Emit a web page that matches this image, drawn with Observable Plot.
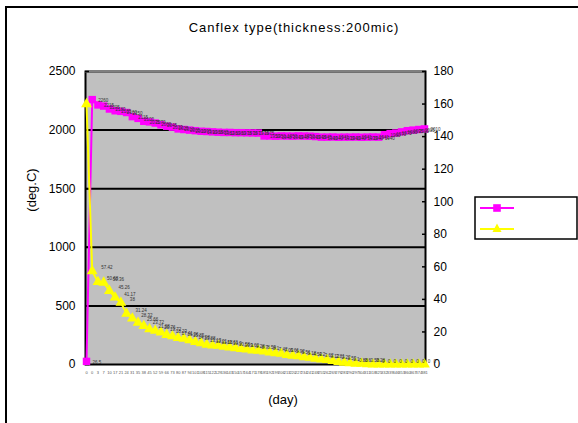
<!DOCTYPE html>
<html><head><meta charset="utf-8">
<script src="https://cdn.jsdelivr.net/npm/d3@7"></script>
<script src="https://cdn.jsdelivr.net/npm/@observablehq/plot@0.6"></script>
<style>
html,body{margin:0;padding:0;background:#fff;overflow:hidden;}
#wrap{position:relative;width:578px;height:423px;font-family:"Liberation Sans",Arial,sans-serif;overflow:hidden;}
#border{position:absolute;left:5px;top:6px;width:620px;height:460px;border:2px solid #000;box-sizing:border-box;z-index:5;pointer-events:none;}
#chart{position:absolute;left:0;top:0;}
.t{position:absolute;white-space:nowrap;color:#000;line-height:1;}
#title{left:294px;top:21px;font-size:13px;transform:translateX(-50%);letter-spacing:1px;}
#ylab{left:31px;top:190px;font-size:13px;transform:translate(-50%,-50%) rotate(-90deg);}
#xlab{left:283px;top:399px;font-size:13px;transform:translate(-50%,-50%);}
#legend{position:absolute;left:474px;top:196px;}
</style></head><body>
<div id="wrap">
  <div id="chart"></div>
  <div class="t" id="title">Canflex type(thickness:200mic)</div>
  <div class="t" id="ylab">(deg.C)</div>
  <div class="t" id="xlab">(day)</div>
  <svg id="legend" width="104" height="44">
    <rect x="1" y="1" width="102" height="42" fill="#fff" stroke="#000" stroke-width="1.5"></rect>
    <line x1="6" x2="40" y1="12" y2="12" stroke="#ff00ff" stroke-width="2"></line>
    <rect x="19.2" y="8.2" width="7.6" height="7.6" fill="#ff00ff"></rect>
    <line x1="6" x2="40" y1="33" y2="33" stroke="#ffff00" stroke-width="2"></line>
    <path d="M23,27.5 L27.5,36 L18.5,36 Z" fill="#ffff00"></path>
  </svg>
  <div id="border"></div>
</div>
<script>
const days = [0,0,3,7,10,17,21,24,31,35,
  38,45,52,59,66,73,80,87,94,101,
  108,115,122,129,136,143,150,157,164,171,
  178,185,192,199,206,213,220,227,234,241,
  248,255,262,269,276,283,290,297,304,311,
  318,325,332,339,346,353,360,367,374,381];
const magenta = [26.5,2260,2215,2205,2180,2165,2160,2150,2115,2100,
  2075,2070,2060,2045,2033,2025,2010,2005,2000,1995,
  1990,1988,1985,1982,1980,1980,1978,1978,1977,1976,
  1975,1950,1950,1948,1950,1949,1948,1950,1949,1948,
  1945,1940,1940,1941,1939,1940,1940,1941,1939,1940,
  1941,1940,1960,1970,1975,1985,1995,2000,2005,2010];
const yellow = [160,57.42,50.68,50.36,45.26,41.17,38,31.24,28.32,25.66,
  23.72,21.68,20.76,19.72,18.23,17.41,16.36,15.85,14.98,13.88,
  13.13,12.21,11.68,11.61,10.9,10.58,10.1,9.62,9.28,8.7,
  8.59,8.1,7.42,7.03,6.61,5.92,5.51,5.18,4.52,4.2,
  3.62,3.12,2.81,2.22,1.53,1.1,0.88,0.6,0.58,0.28,
  0,0,0,0,0,0,0,0,0,0];
const leftTicks = [0,500,1000,1500,2000,2500];
const rightTicks = [0,20,40,60,80,100,120,140,160,180];
const gridLines = [500,1000,1500,2000];

const K = 2500/180;
const idx = days.map((d,i)=>i);
const data = days.map((d,i)=>({i, m: magenta[i], y: yellow[i]}));

const plot = Plot.plot({
  width: 578, height: 423,
  marginLeft: 85, marginRight: 153, marginTop: 71, marginBottom: 59,
  style: {fontFamily: '"Liberation Sans", Arial, sans-serif', background: "transparent", overflow: "visible", color: "#000"},
  x: {type: "point", domain: idx, padding: 0, insetLeft: 1, insetRight: 1, axis: null},
  y: {domain: [0, 2500], axis: null},
  marks: [
    Plot.frame({fill: "#c0c0c0"}),
    Plot.ruleY(gridLines, {stroke: "#000", strokeWidth: 2}),
    Plot.frame({stroke: "#000", strokeWidth: 2}),
    Plot.ruleY([2500], {stroke: "#808080", strokeWidth: 2}),
    Plot.axisX(idx, {tickSize: 0, tickPadding: 7, fontSize: 4, fill: "#555", tickFormat: i => String(days[i]), label: null}),
    Plot.axisY(leftTicks, {anchor: "left", tickSize: -4, tickPadding: 14, fontSize: 12, label: null, strokeWidth: 1.5, tickFormat: d => String(d)}),
    Plot.axisY(rightTicks.map(t => t*K), {anchor: "right", tickSize: -4, tickPadding: 12, fontSize: 12, label: null, strokeWidth: 1.5, tickFormat: d => String(Math.round(d/K))}),
    Plot.line(data, {x: "i", y: "m", stroke: "#ff00ff", strokeWidth: 2}),
    Plot.dot(data, {x: "i", y: "m", symbol: "square", r: 4.2, fill: "#ff00ff"}),
    Plot.text(data, {x: "i", y: "m", text: d => String(d.m), dx: 6, dy: 1, fontSize: 4.5, textAnchor: "start", fill: "#333"}),
    Plot.line(data, {x: "i", y: d => d.y*K, stroke: "#ffff00", strokeWidth: 2}),
    Plot.dot(data, {x: "i", y: d => d.y*K, symbol: "triangle", r: 4, fill: "#ffff00"}),
    Plot.text(data.slice(1), {x: "i", y: d => d.y*K, text: d => String(d.y), dx: 9, dy: -3, fontSize: 4.5, textAnchor: "start", fill: "#333"})
  ]
});
document.getElementById("chart").appendChild(plot);
</script>
</body></html>
